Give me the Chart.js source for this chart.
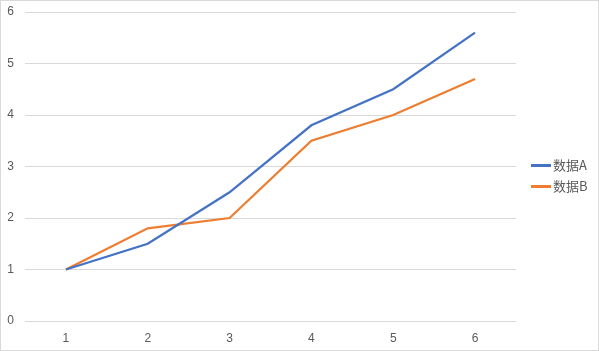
<!DOCTYPE html>
<html>
<head>
<meta charset="utf-8">
<script src="https://cdn.jsdelivr.net/npm/chart.js@4/dist/chart.umd.min.js"></script>
<style>
html,body{margin:0;padding:0;background:#fff;}
#wrap{position:relative;width:599px;height:351px;}
</style>
</head>
<body>
<div id="wrap"><canvas id="c" width="599" height="351"></canvas></div>
<script>
const categories = ['1','2','3','4','5','6'];
const seriesA = [1, 1.5, 2.5, 3.8, 4.5, 5.6];
const seriesB = [1, 1.8, 2.0, 3.5, 4.0, 4.7];
const seriesNames = ['数据A', '数据B'];
const seriesColors = ['#4472C4', '#ED7D31'];

// legend line marker: 20px line placed so it ends ~2px before the label text
function legendLine(color) {
  const cv = document.createElement('canvas');
  cv.width = 21; cv.height = 3;
  const g = cv.getContext('2d');
  g.fillStyle = color;
  g.fillRect(1, 0, 20, 3);
  return cv;
}

const borderPlugin = {
  id: 'outerBorder',
  beforeDraw(chart) {
    const ctx = chart.ctx;
    ctx.save();
    ctx.fillStyle = '#ffffff';
    ctx.fillRect(0, 0, chart.width, chart.height);
    ctx.strokeStyle = '#d9d9d9';
    ctx.lineWidth = 1;
    ctx.strokeRect(0.5, 0.5, chart.width - 1, chart.height - 1);
    ctx.restore();
  }
};

const legendShift = {
  id: 'legendShift',
  afterLayout(chart) {
    const lg = chart.legend;
    if (!lg) return;
    const w = lg.width;
    lg.left = 526.5;
    lg.right = lg.left + w;
  }
};

new Chart(document.getElementById('c'), {
  type: 'line',
  data: {
    labels: categories,
    datasets: [
      { label: seriesNames[0], data: seriesA, borderColor: seriesColors[0], backgroundColor: seriesColors[0], borderWidth: 2.25, pointRadius: 0, pointStyle: legendLine(seriesColors[0]), tension: 0 },
      { label: seriesNames[1], data: seriesB, borderColor: seriesColors[1], backgroundColor: seriesColors[1], borderWidth: 2.25, pointRadius: 0, pointStyle: legendLine(seriesColors[1]), tension: 0 }
    ]
  },
  options: {
    responsive: false,
    animation: false,
    layout: { padding: { left: 0, top: 7, right: 12, bottom: 7 } },
    plugins: {
      legend: {
        position: 'right',
        labels: {
          usePointStyle: true,
          pointStyleWidth: 12,
          boxHeight: 12,
          padding: 8,
          color: '#595959',
          font: { family: '"Noto Sans CJK SC", sans-serif', size: 13 }
        }
      },
      tooltip: { enabled: false }
    },
    scales: {
      x: {
        offset: true,
        grid: { display: false, drawTicks: false },
        border: { display: false },
        ticks: { color: '#595959', padding: 10, font: { family: '"Liberation Sans", Arial, sans-serif', size: 12 } },
        afterFit(s) { s.height = 23; }
      },
      y: {
        min: 0, max: 6,
        grid: { color: '#d9d9d9', lineWidth: 1, drawTicks: false },
        border: { display: false },
        ticks: { stepSize: 1, color: '#595959', padding: 11, font: { family: '"Liberation Sans", Arial, sans-serif', size: 12 } },
        afterFit(s) { s.width = 25; s.paddingTop = 12; s.paddingBottom = 0; }
      }
    }
  },
  plugins: [borderPlugin, legendShift]
});
</script>
</body>
</html>
